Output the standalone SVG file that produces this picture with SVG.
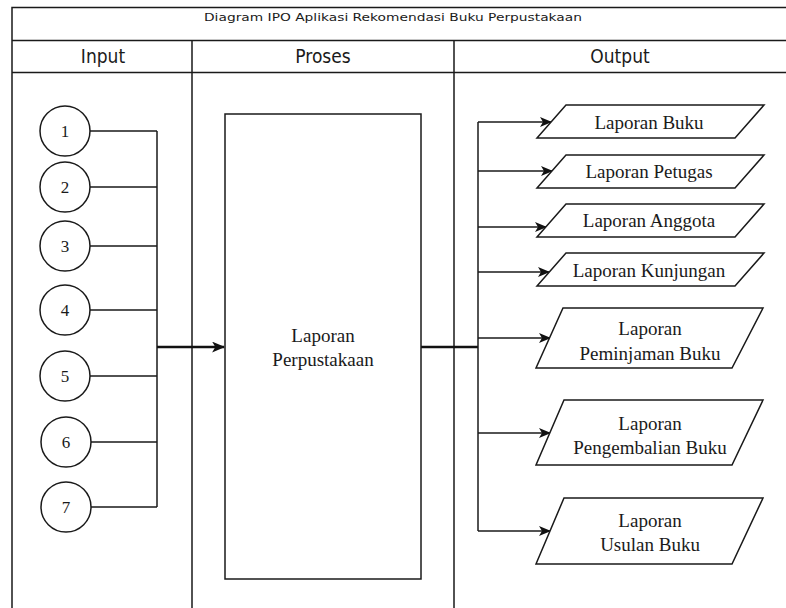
<svg xmlns="http://www.w3.org/2000/svg" width="786" height="608" viewBox="0 0 786 608">
  <style>
    .frame { fill: none; stroke: #1a1a1a; stroke-width: 1.5; }
    .title { font-family: "DejaVu Sans", sans-serif; font-size: 11px; fill: #1a1a1a; }
    .head { font-family: "DejaVu Sans Condensed", "DejaVu Sans", sans-serif; font-size: 19px; fill: #1a1a1a; }
    .shape { fill: #ffffff; stroke: #1a1a1a; stroke-width: 1.5; }
    .lbl { font-family: "Liberation Serif", serif; font-size: 19px; fill: #1a1a1a; text-anchor: middle; dominant-baseline: central; }
    .num { font-family: "Liberation Serif", serif; font-size: 17px; fill: #1a1a1a; text-anchor: middle; dominant-baseline: central; }
    .wire { fill: none; stroke: #1a1a1a; stroke-width: 1.5; }
    .bold { fill: none; stroke: #111; stroke-width: 2.6; }
  </style>
  <defs>
    <marker id="arrow" viewBox="0 0 12 10" refX="11" refY="5" markerWidth="12" markerHeight="10" markerUnits="userSpaceOnUse" orient="auto">
      <path d="M0,0 L12,5 L0,10 L3,5 Z" fill="#111"/>
    </marker>
    <marker id="arrowBig" viewBox="0 0 12 10" refX="11" refY="5" markerWidth="13" markerHeight="11" markerUnits="userSpaceOnUse" orient="auto">
      <path d="M0,0 L12,5 L0,10 L3,5 Z" fill="#111"/>
    </marker>
  </defs>

  <rect width="786" height="608" fill="#ffffff"/>

  <!-- table frame -->
  <g id="table">
    <path class="frame" d="M12,608 V7.5 H786 M12,40.5 H786 M12,72.5 H786 M192,40.5 V608 M454,40.5 V608"/>
    <text class="title" x="393" y="21" text-anchor="middle" textLength="378" lengthAdjust="spacingAndGlyphs">Diagram IPO Aplikasi Rekomendasi Buku Perpustakaan</text>
    <text class="head" x="103" y="63" text-anchor="middle">Input</text>
    <text class="head" x="323" y="63" text-anchor="middle">Proses</text>
    <text class="head" x="620" y="63" text-anchor="middle">Output</text>
  </g>

  <!-- connectors -->
  <g id="connectors">
    <path class="wire" d="M90,131 H157 M90,187 H157 M90,246 H157 M90,310 H157 M90,376 H157 M91,442 H157 M91,507 H157 M157,131 V507"/>
    <path class="bold" d="M157,347 H224" marker-end="url(#arrowBig)"/>
    <path class="bold" d="M421,347 H478"/>
    <path class="wire" d="M478,122 V531"/>
    <path class="wire" d="M478,122 H551" marker-end="url(#arrow)"/>
    <path class="wire" d="M478,171 H552" marker-end="url(#arrow)"/>
    <path class="wire" d="M478,227 H546" marker-end="url(#arrow)"/>
    <path class="wire" d="M478,272 H549" marker-end="url(#arrow)"/>
    <path class="wire" d="M478,338 H550" marker-end="url(#arrow)"/>
    <path class="wire" d="M478,433 H550" marker-end="url(#arrow)"/>
    <path class="wire" d="M478,531 H550" marker-end="url(#arrow)"/>
  </g>

  <!-- inputs -->
  <g id="in1"><circle class="shape" cx="65" cy="131" r="25"/><text class="num" x="65" y="131">1</text></g>
  <g id="in2"><circle class="shape" cx="65" cy="187" r="25"/><text class="num" x="65" y="187">2</text></g>
  <g id="in3"><circle class="shape" cx="65" cy="246" r="25"/><text class="num" x="65" y="246">3</text></g>
  <g id="in4"><circle class="shape" cx="65" cy="310" r="25"/><text class="num" x="65" y="310">4</text></g>
  <g id="in5"><circle class="shape" cx="65" cy="376" r="25"/><text class="num" x="65" y="376">5</text></g>
  <g id="in6"><circle class="shape" cx="66" cy="442" r="25"/><text class="num" x="66" y="442">6</text></g>
  <g id="in7"><circle class="shape" cx="66" cy="507" r="25"/><text class="num" x="66" y="507">7</text></g>

  <!-- process -->
  <g id="proses">
    <rect class="shape" x="225" y="114" width="196" height="465"/>
    <text class="lbl" x="323" y="335">Laporan</text>
    <text class="lbl" x="323" y="359">Perpustakaan</text>
  </g>

  <!-- outputs -->
  <g id="out-buku">
    <polygon class="shape" points="566,105 764,105 735,138 537,138"/>
    <text class="lbl" x="649" y="122">Laporan Buku</text>
  </g>
  <g id="out-petugas">
    <polygon class="shape" points="566,155 764,155 735,188 537,188"/>
    <text class="lbl" x="649" y="171">Laporan Petugas</text>
  </g>
  <g id="out-anggota">
    <polygon class="shape" points="566,204 764,204 735,237 537,237"/>
    <text class="lbl" x="649" y="220">Laporan Anggota</text>
  </g>
  <g id="out-kunjungan">
    <polygon class="shape" points="566,253 764,253 735,286 537,286"/>
    <text class="lbl" x="649" y="270">Laporan Kunjungan</text>
  </g>
  <g id="out-peminjaman">
    <polygon class="shape" points="563,308 763,308 732,368 536,368"/>
    <text class="lbl" x="650" y="328">Laporan</text>
    <text class="lbl" x="650" y="353">Peminjaman Buku</text>
  </g>
  <g id="out-pengembalian">
    <polygon class="shape" points="564,400 763,400 732,465 536,465"/>
    <text class="lbl" x="650" y="423">Laporan</text>
    <text class="lbl" x="650" y="447">Pengembalian Buku</text>
  </g>
  <g id="out-usulan">
    <polygon class="shape" points="564,498 763,498 732,564 536,564"/>
    <text class="lbl" x="650" y="520">Laporan</text>
    <text class="lbl" x="650" y="544">Usulan Buku</text>
  </g>
</svg>
